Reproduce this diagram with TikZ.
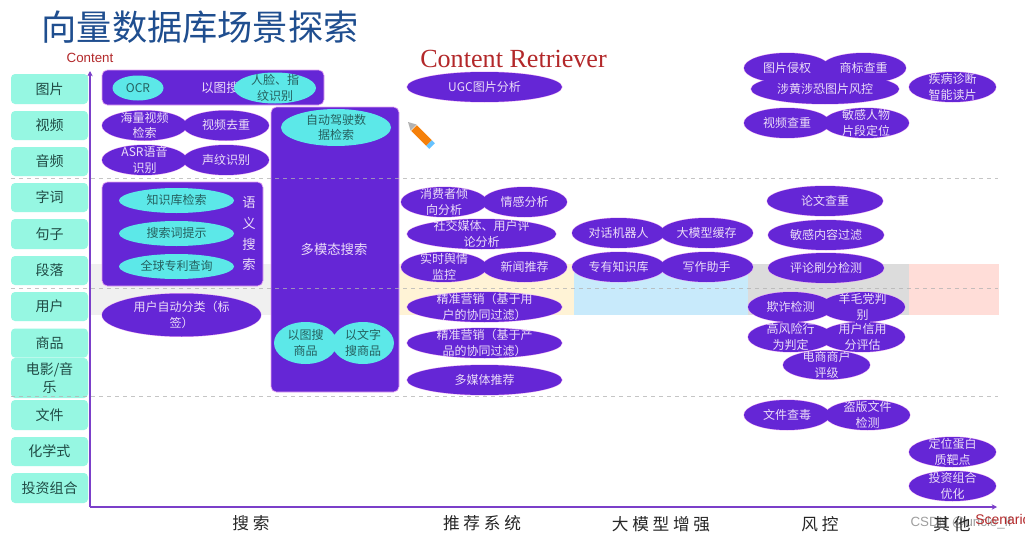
\documentclass[tikz,border=0pt]{standalone}
\usepackage{fontspec}
\setmainfont{Noto Sans CJK SC}
\newfontfamily\latinsans{Liberation Sans}
\newfontfamily\latinserif{Liberation Serif}
\usetikzlibrary{shapes.geometric,arrows.meta}
\definecolor{vpurple}{HTML}{6526D6}
\definecolor{vedge}{HTML}{E7A6F2}
\definecolor{vtext}{HTML}{EBDDF8}
\definecolor{vcyan}{HTML}{5CE8E8}
\definecolor{vcyantext}{HTML}{25605F}
\definecolor{vaqua}{HTML}{96F7E2}
\definecolor{vaquatext}{HTML}{1F4A44}
\definecolor{vaxis}{HTML}{7B3FC9}
\definecolor{vtitle}{HTML}{1F4E8F}
\definecolor{vred}{HTML}{B3282A}
\definecolor{bandA}{HTML}{F0F0F0}
\definecolor{bandB}{HTML}{FFF3D6}
\definecolor{bandC}{HTML}{C8EAFB}
\definecolor{bandD}{HTML}{DCDCDC}
\definecolor{bandE}{HTML}{FFDDD8}
\tikzset{
  x=0.75pt,y=-0.75pt,
  lab/.style={fill=vaqua,rounded corners=3pt,text=vaquatext,inner sep=0pt,align=center,
    font=\fontsize{10.5}{13.5}\selectfont,minimum width=57.75pt},
  ellbase/.style={ellipse,inner sep=0pt,outer sep=0pt,font=\fontsize{9}{11.6}\selectfont},
  halo/.style={ellbase,draw=vedge,line width=0.7pt},
  pfill/.style={ellbase,fill=vpurple,text=vtext},
  cfill/.style={ellbase,fill=vcyan,text=vcyantext},
  pbox/.style={fill=vpurple,draw=vedge,line width=0.5pt,rounded corners=4pt},
  sep/.style={draw=gray!60,dashed,line width=0.5pt,opacity=0.75},
  axisline/.style={draw=vaxis,line width=1.1pt,-{Stealth[length=4pt,width=4pt]}},
  cat/.style={text=black!85,font=\fontsize{12.5}{15}\selectfont},
}
\newcommand\cen[1]{\makebox[0pt]{\smash{\raisebox{-3.2pt}{\begin{tabular}{@{}c@{}}#1\end{tabular}}}}}
% name, cx, cy, w, h, text
\newcommand\purplelist{%
 \ELL{e1}{144.5}{125.5}{85}{30}{海量视频\\检索}
 \ELL{e2}{226}{125.5}{86}{30}{视频去重}
 \ELL{e3}{144.5}{160}{85}{30}{ASR语音\\识别}
 \ELL{e4}{226}{160}{86}{30}{声纹识别}
 \ELL{e5}{181.5}{315}{159}{43}{用户自动分类（标\\签）}
 \ELL{f1}{484.5}{87}{155}{30}{UGC图片分析}
 \ELL{f2}{444}{202}{86}{30}{消费者倾\\向分析}
 \ELL{f3}{524.5}{202}{85}{30}{情感分析}
 \ELL{f4}{481.5}{234}{149}{30}{社交媒体、用户评\\论分析}
 \ELL{f5}{444}{267}{86}{30}{实时舆情\\监控}
 \ELL{f6}{524.5}{267}{85}{30}{新闻推荐}
 \ELL{f7}{484.5}{307}{155}{30}{精准营销（基于用\\户的协同过滤）}
 \ELL{f8}{484.5}{343}{155}{30}{精准营销（基于产\\品的协同过滤）}
 \ELL{f9}{484.5}{380}{155}{30}{多媒体推荐}
 \ELL{g1}{618.5}{233}{93}{30}{对话机器人}
 \ELL{g2}{706.5}{233}{93}{30}{大模型缓存}
 \ELL{g3}{618.5}{267}{93}{30}{专有知识库}
 \ELL{g4}{706.5}{267}{93}{30}{写作助手}
 \ELL{h1}{787}{68}{86}{30}{图片侵权}
 \ELL{h2}{863.5}{68}{85}{30}{商标查重}
 \ELL{h3}{825}{89}{148}{30}{涉黄涉恐图片风控}
 \ELL{h4}{787}{123}{86}{30}{视频查重}
 \ELL{h5}{866}{123}{86}{30}{敏感人物\\片段定位}
 \ELL{h6}{825}{201}{116}{30}{论文查重}
 \ELL{h7}{826}{235}{116}{30}{敏感内容过滤}
 \ELL{h8}{826}{268}{116}{30}{评论刷分检测}
 \ELL{h9}{790.5}{307}{85}{30}{欺诈检测}
 \ELL{h10}{862.5}{307}{85}{30}{羊毛党判\\别}
 \ELL{h11}{790.5}{337}{85}{30}{高风险行\\为判定}
 \ELL{h12}{862.5}{337}{85}{30}{用户信用\\分评估}
 \ELL{h13}{826.5}{365}{87}{29}{电商商户\\评级}
 \ELL{h14}{787}{415}{86}{30}{文件查毒}
 \ELL{h15}{867.5}{415}{85}{30}{盗版文件\\检测}
 \ELL{i1}{952.5}{87}{87}{30}{疾病诊断\\智能读片}
 \ELL{i2}{952.5}{452}{87}{30}{定位蛋白\\质靶点}
 \ELL{i3}{952.5}{486}{87}{30}{投资组合\\优化}
}
\newcommand\cyanlist{%
 \ELL{c1}{138}{88}{51}{25}{OCR}
 \ELL{c2}{275}{88}{82}{31}{人脸、指\\纹识别}
 \ELL{c3}{176.5}{200.5}{115}{25}{知识库检索}
 \ELL{c4}{176.5}{233.5}{115}{25}{搜索词提示}
 \ELL{c5}{176.5}{266.5}{115}{25}{全球专利查询}
 \ELL{c6}{336}{127.5}{110}{37}{自动驾驶数\\据检索}
 \ELL{c7}{305.5}{343}{63}{42}{以图搜\\商品}
 \ELL{c8}{363}{343}{62}{42}{以文字\\搜商品}
}
\begin{document}
\begin{tikzpicture}
\useasboundingbox (0,0) rectangle (1025,539);
\fill[white] (0,0) rectangle (1025,539);
% bands
\fill[bandA] (90,264) rectangle (400,315);
\fill[bandB] (400,264) rectangle (574,315);
\fill[bandC] (574,264) rectangle (748,315);
\fill[bandD] (748,264) rectangle (909,315);
\fill[bandE] (909,264) rectangle (999,315);
% title texts
\node[text=vtitle,font=\fontsize{26.4}{30}\selectfont,inner sep=0pt] (title) at (200,27) {向量数据库场景探索};
\node[text=vred,font=\fontsize{10}{12}\latinsans,inner sep=0pt] (ycap) at (90,58) {Content};
\node[text=vred,font=\fontsize{19.6}{23}\latinserif,inner sep=0pt] (cr) at (513.5,59) {Content Retriever};
% row labels
\node[lab,minimum height=22.5pt] (l1) at (49.5,89) {图片};
\node[lab,minimum height=21.75pt] (l2) at (49.5,125.5) {视频};
\node[lab,minimum height=21.75pt] (l3) at (49.5,161.5) {音频};
\node[lab,minimum height=21.75pt] (l4) at (49.5,197.5) {字词};
\node[lab,minimum height=22.5pt] (l5) at (49.5,234) {句子};
\node[lab,minimum height=21.75pt] (l6) at (49.5,270.5) {段落};
\node[lab,minimum height=21.75pt] (l7) at (49.5,306.5) {用户};
\node[lab,minimum height=21.75pt] (l8) at (49.5,343) {商品};
\node[lab,minimum height=30pt] (l9) at (49.5,378) {电影/音\\乐};
\node[lab,minimum height=22.5pt] (l10) at (49.5,415) {文件};
\node[lab,minimum height=21.75pt] (l11) at (49.5,451.5) {化学式};
\node[lab,minimum height=22.5pt] (l12) at (49.5,488) {投资组合};
% axes
\coordinate (org) at (90,507);
\coordinate (ytop) at (90,71);
\coordinate (xend) at (997,507);
\draw[axisline] (org) -- (ytop);
\draw[axisline] (org) -- (xend);
% boxes
\draw[pbox] (102,70) rectangle (324,105);
\draw[pbox] (102,182) rectangle (263,286);
\draw[pbox] (271,107) rectangle (399,392);
% dashed separators
\coordinate (s1a) at (11,178); \coordinate (s1b) at (998,178);
\coordinate (s2a) at (11,288); \coordinate (s2b) at (998,288);
\coordinate (s3a) at (11,396); \coordinate (s3b) at (998,396);
\draw[sep] (s1a) -- (s1b);
\draw[sep] (s2a) -- (s2b);
\draw[sep] (s3a) -- (s3b);
% box texts
\node[text=vtext,font=\fontsize{9.5}{12}\selectfont,inner sep=0pt] (t1) at (220,88) {以图搜};
\node[text=vtext,font=\fontsize{10}{15.5}\selectfont,align=center,inner sep=0pt] (t2) at (249,234) {语\\义\\搜\\索};
\node[text=vtext,font=\fontsize{10}{12}\selectfont,inner sep=0pt] (t3) at (334,249) {多模态搜索};
% ellipses: outline pass, then merged fill pass
\def\ELL#1#2#3#4#5#6{\node[halo,minimum width=#4*0.75pt,minimum height=#5*0.75pt] at (#2,#3) {};}
\purplelist
\def\ELL#1#2#3#4#5#6{\node[pfill,minimum width=#4*0.75pt,minimum height=#5*0.75pt] (#1) at (#2,#3) {\cen{#6}};}
\purplelist
\def\ELL#1#2#3#4#5#6{\node[cfill,minimum width=#4*0.75pt,minimum height=#5*0.75pt] (#1) at (#2,#3) {\cen{#6}};}
\cyanlist
% pencil
\draw[line width=6pt,draw=orange!85!brown] (414,128) -- (429,143);
\draw[line width=6pt,draw=blue!40!cyan!60] (429,143) -- (432,146);
\fill[gray!60] (408,122) -- (416.5,124.5) -- (410.5,130.5) -- cycle;
% category labels
\node[text=gray!75,font=\fontsize{10}{12}\latinsans,inner sep=0pt] (wm) at (961,523) {CSDN @uncle\_lf};
\node[cat] (x1) at (251,523) {搜 索};
\node[cat] (x2) at (482,523) {推 荐 系 统};
\node[cat] (x3) at (661,524) {大 模 型 增 强};
\node[cat] (x4) at (820,524) {风 控};
\node[cat] (x5) at (952,524) {其 他};
\node[text=vred,font=\fontsize{10.5}{12}\latinsans,inner sep=0pt,anchor=west] (xcap) at (975,519) {Scenario};
\end{tikzpicture}
\end{document}
